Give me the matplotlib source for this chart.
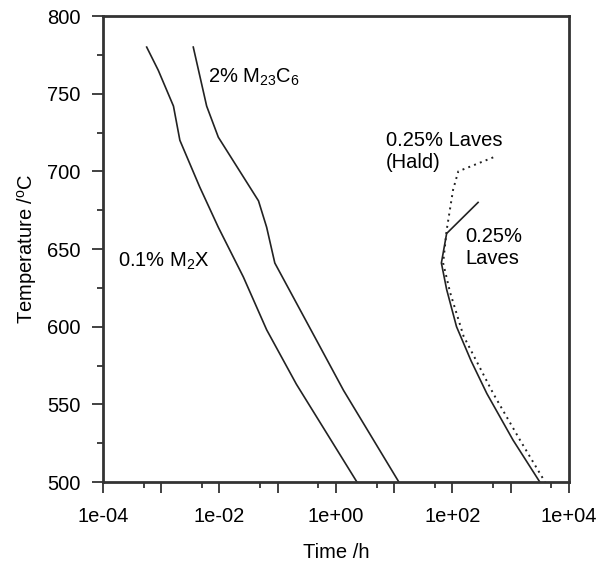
import numpy as np
import matplotlib
matplotlib.use("Agg")
import matplotlib.pyplot as plt
from matplotlib.ticker import FixedLocator, FuncFormatter

plt.rcParams['font.family'] = ['Liberation Sans', 'DejaVu Sans']
plt.rcParams['mathtext.fontset'] = 'custom'
plt.rcParams['mathtext.rm'] = 'Liberation Sans'
plt.rcParams['mathtext.it'] = 'Liberation Sans'

# log10(time / h) against temperature
m2x_logt = [-3.25, -3.05, -2.79, -2.68, -2.34, -2.02, -1.59, -1.19, -0.68, 0.36]
m2x_temp = [780, 765, 742, 720, 690, 664, 632, 598, 563, 500]

m23_logt = [-2.45, -2.22, -2.02, -1.33, -1.19, -1.05, -0.33, 0.13, 1.08]
m23_temp = [780, 742, 722, 681, 664, 641, 591, 559, 500]

laves_logt = [2.44, 1.90, 1.81, 1.90, 2.07, 2.32, 2.59, 3.04, 3.50]
laves_temp = [680, 660, 641, 624, 600, 578, 557, 527, 500]

hald_logt = [2.70, 2.10, 2.01, 1.90, 1.84, 1.96, 2.19, 2.70, 3.16, 3.59]
hald_temp = [709, 700, 688, 662, 641, 622, 594, 557, 527, 500]

fs = 14.5

fig = plt.figure(figsize=(5.97, 5.62), dpi=100)
ax = fig.add_axes([0.1725, 0.1423, 0.7805, 0.8292])

ax.plot(10 ** np.array(m2x_logt), m2x_temp, color='#222222', linewidth=1.2)
ax.plot(10 ** np.array(m23_logt), m23_temp, color='#222222', linewidth=1.2)
ax.plot(10 ** np.array(laves_logt), laves_temp, color='#222222', linewidth=1.2)
ax.plot(10 ** np.array(hald_logt), hald_temp, color='#222222', linewidth=1.4,
        linestyle=(0, (1, 2.2)))

ax.set_xscale('log')
ax.set_xlim(1e-4, 1e4)
ax.set_ylim(500, 800)

ax.xaxis.set_major_locator(FixedLocator([10.0 ** k for k in range(-4, 5)]))
ax.xaxis.set_minor_locator(FixedLocator([5 * 10.0 ** k for k in range(-4, 4)]))
ax.xaxis.set_major_formatter(FuncFormatter(
    lambda v, p: '%.0e' % v if round(np.log10(v)) % 2 == 0 else ''))
ax.set_yticks(np.arange(500, 801, 50))
ax.set_yticks(np.arange(500, 801, 25), minor=True)

ax.tick_params(which='major', direction='out', length=8, width=1.3,
               labelsize=fs, color='#333333')
ax.tick_params(which='minor', direction='out', length=4, width=1.3, color='#333333')
ax.tick_params(axis='x', which='major', pad=10)
ax.tick_params(axis='y', which='major', pad=8)

for s in ax.spines.values():
    s.set_linewidth(2)
    s.set_color('#333333')

ax.set_xlabel('Time /h', fontsize=fs, labelpad=12)
ax.set_ylabel('Temperature /$^{\\mathrm{o}}$C', fontsize=fs, labelpad=6)

ax.text(10 ** -2.19, 757, '2% M$_{23}$C$_6$', fontsize=fs, va='baseline', ha='left')
ax.text(10 ** -3.74, 638.5, '0.1% M$_2$X', fontsize=fs, va='baseline', ha='left')
ax.text(10 ** 0.86, 713, '0.25% Laves\n(Hald)', fontsize=fs, va='center', ha='left',
        linespacing=1.2)
ax.text(10 ** 2.22, 651, '0.25%\nLaves', fontsize=fs, va='center', ha='left',
        linespacing=1.2)

fig.savefig('out.png', dpi=100)
